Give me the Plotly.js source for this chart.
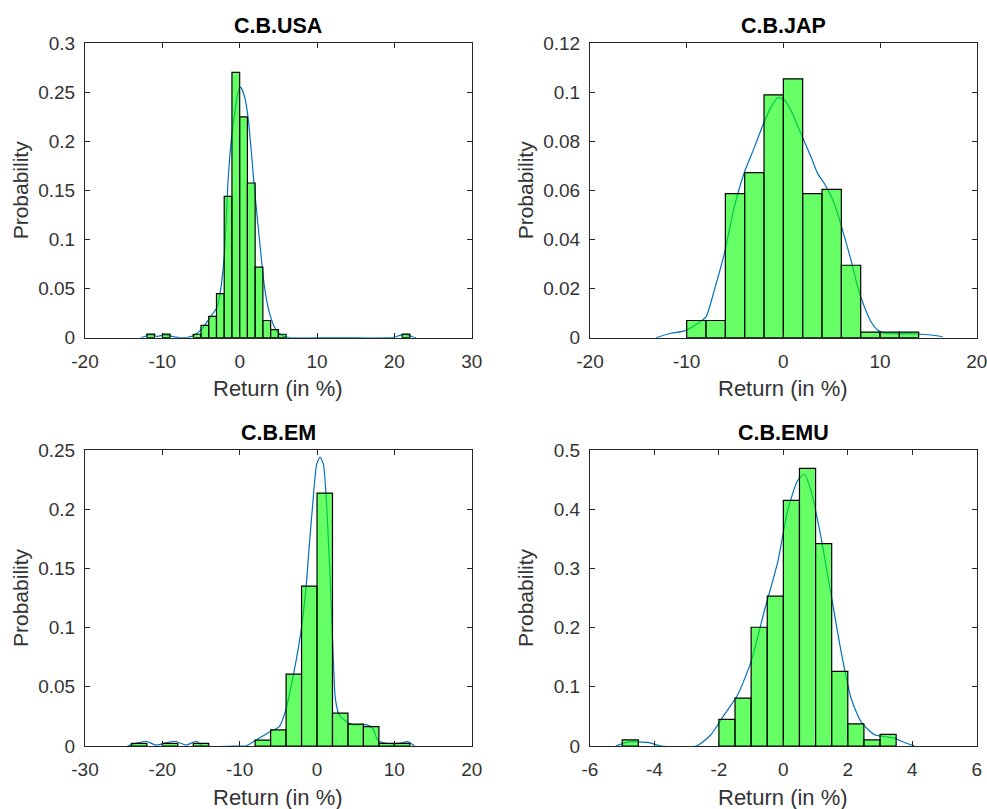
<!DOCTYPE html>
<html>
<head>
<meta charset="utf-8">
<script src="https://cdn.plot.ly/plotly-3.0.1.min.js"></script>
<style>html,body{margin:0;padding:0;background:#fff;}#chart{width:987px;height:809px;}</style>
</head>
<body>
<div id="chart"></div>
<script>
// ---------- Data ----------
const titles = ["C.B.USA", "C.B.JAP", "C.B.EM", "C.B.EMU"];
const xLabel = "Return (in %)";
const yLabel = "Probability";

// C.B.USA histogram (bin width 1)
const usaBinCenters = [-11.5, -9.5, -5.5, -4.5, -3.5, -2.5, -1.5, -0.5, 0.5, 1.5, 2.5, 3.5, 4.5, 5.5, 21.5];
const usaBinValues  = [0.0037, 0.0037, 0.0035, 0.0126, 0.0218, 0.0448, 0.1439, 0.270, 0.2247, 0.1575, 0.0719, 0.0175, 0.0082, 0.0035, 0.0037];
const usaBinWidth = 1;
// C.B.USA density curve
const usaCurveX = [-12.8, -12.2, -11.6, -11.1, -10.7, -10.2, -9.7, -9.0, -8.3, -7.7, -6.9, -6.2, -5.6, -5.0, -4.5, -3.8, -3.0, -2.6, -2.0, -1.5, -1.1, -0.65, -0.2, 0.12, 0.64, 1.07, 1.5, 1.93, 2.57, 3.2, 3.85, 4.7, 5.6, 6.5, 10, 15, 19.9, 20.8, 21.5, 22.3, 22.8];
const usaCurveY = [0, 0.0015, 0.003, 0.0025, 0.0012, 0.0022, 0.0028, 0.0018, 0.0006, 0.0001, 0.0002, 0.0013, 0.004, 0.008, 0.013, 0.021, 0.03, 0.042, 0.082, 0.16, 0.2, 0.228, 0.25, 0.255, 0.245, 0.225, 0.19, 0.15, 0.099, 0.052, 0.025, 0.008, 0.0017, 0, 0, 0, 0.0003, 0.0027, 0.0034, 0.001, 0];

// C.B.JAP histogram (bin width 2)
const japBinCenters = [-9, -7, -5, -3, -1, 1, 3, 5, 7, 9, 11, 13];
const japBinValues  = [0.007, 0.007, 0.0587, 0.0672, 0.0989, 0.1054, 0.0587, 0.0604, 0.0295, 0.0023, 0.0023, 0.0023];
const japBinWidth = 2;
const japCurveX = [-13.17, -11.62, -10.24, -8.86, -8.0, -7.14, -6.1, -5.07, -4.03, -3.0, -2.07, -1.28, -0.59, 0.1, 0.79, 1.83, 2.86, 3.55, 4.24, 5.27, 6.03, 7.0, 7.69, 8.38, 9.07, 9.75, 10.44, 13.89, 15.27, 16.48];
const japCurveY = [0, 0.0018, 0.0028, 0.0058, 0.0085, 0.0194, 0.0343, 0.0533, 0.0674, 0.0775, 0.087, 0.0938, 0.0977, 0.0969, 0.0925, 0.083, 0.0736, 0.0668, 0.0628, 0.0547, 0.0451, 0.0316, 0.0207, 0.0126, 0.0065, 0.0031, 0.0018, 0.0015, 0.0011, 0.0004];

// C.B.EM histogram (bin width 2)
const emBinCenters = [-23, -19, -15, -7, -5, -3, -1, 1, 3, 5, 7, 9, 11];
const emBinValues  = [0.0023, 0.0023, 0.0023, 0.005, 0.0136, 0.0607, 0.135, 0.2136, 0.0277, 0.0184, 0.0164, 0.0023, 0.0023];
const emBinWidth = 2;
const emCurveX = [-24.5, -23.85, -22.12, -20.8, -18.4, -16.9, -15.6, -14.8, -10, -9.2, -7.9, -6.2, -4.88, -4.1, -2.72, -2.07, -1.42, -0.99, -0.56, -0.04, 0.39, 0.82, 1.16, 1.6, 2.03, 2.37, 2.89, 3.75, 4.61, 6.34, 7.2, 7.85, 8.93, 10.65, 11.73, 12.6];
const emCurveY = [0, 0.0014, 0.004, 0.0008, 0.004, 0.0008, 0.004, 0, 0, 0, 0.005, 0.0116, 0.0164, 0.029, 0.0715, 0.097, 0.134, 0.170, 0.204, 0.238, 0.244, 0.238, 0.213, 0.156, 0.086, 0.040, 0.026, 0.021, 0.018, 0.018, 0.015, 0.005, 0.0023, 0.0023, 0.0037, 0];

// C.B.EMU histogram (bin width 0.5)
const emuBinCenters = [-4.75, -1.75, -1.25, -0.75, -0.25, 0.25, 0.75, 1.25, 1.75, 2.25, 2.75, 3.25];
const emuBinValues  = [0.0102, 0.045, 0.0808, 0.2006, 0.253, 0.415, 0.469, 0.342, 0.126, 0.0373, 0.0102, 0.0198];
const emuBinWidth = 0.5;
const emuCurveX = [-5.2, -4.8, -4.2, -3.8, -2.7, -2.25, -1.83, -1.42, -1.0, -0.59, -0.17, 0.13, 0.44, 0.65, 0.86, 1.17, 1.48, 1.79, 2.1, 2.41, 2.83, 3.14, 3.45, 3.76, 4.07];
const emuCurveY = [0, 0.007, 0.006, 0, 0, 0.019, 0.053, 0.086, 0.143, 0.228, 0.312, 0.397, 0.448, 0.459, 0.431, 0.352, 0.256, 0.16, 0.081, 0.041, 0.019, 0.016, 0.013, 0.006, 0];

// Axis ranges and tick labels
const xRanges = [[-20, 30], [-20, 20], [-30, 20], [-6, 6]];
const xTickVals = [
  [-20, -10, 0, 10, 20, 30],
  [-20, -10, 0, 10, 20],
  [-30, -20, -10, 0, 10, 20],
  [-6, -4, -2, 0, 2, 4, 6]
];
const xTickText = [
  ["-20", "-10", "0", "10", "20", "30"],
  ["-20", "-10", "0", "10", "20"],
  ["-30", "-20", "-10", "0", "10", "20"],
  ["-6", "-4", "-2", "0", "2", "4", "6"]
];
const yRanges = [[0, 0.3], [0, 0.12], [0, 0.25], [0, 0.5]];
const yDticks = [0.05, 0.02, 0.05, 0.1];

// ---------- Build figure ----------
const W = 987, H = 809;
const FONT = "Liberation Sans, Arial, Helvetica, sans-serif";
const px = v => v / W;
const py = v => 1 - v / H;

// axes boxes in pixels [left, right, top, bottom]
const boxes = [
  [85, 471.7, 43, 337.7],
  [590, 976.7, 43, 337.7],
  [85, 471.7, 450, 746],
  [590, 976.7, 450, 746]
];

const hist = [
  {c: usaBinCenters, v: usaBinValues, w: usaBinWidth, cx: usaCurveX, cy: usaCurveY},
  {c: japBinCenters, v: japBinValues, w: japBinWidth, cx: japCurveX, cy: japCurveY},
  {c: emBinCenters,  v: emBinValues,  w: emBinWidth,  cx: emCurveX,  cy: emCurveY},
  {c: emuBinCenters, v: emuBinValues, w: emuBinWidth, cx: emuCurveX, cy: emuCurveY}
];

const data = [];
const layout = {
  width: W, height: H,
  margin: {l: 0, r: 0, t: 0, b: 0},
  paper_bgcolor: "#ffffff",
  plot_bgcolor: "rgba(0,0,0,0)",
  showlegend: false,
  font: {family: FONT, color: "#262626"},
  annotations: []
};

const axColor = "#262626";
for (let i = 0; i < 4; i++) {
  const n = i + 1;
  const xa = n === 1 ? "x" : "x" + n;
  const ya = n === 1 ? "y" : "y" + n;
  const yo = "y" + (n + 4);
  const b = boxes[i];
  const h = hist[i];

  // density curve (base subplot, drawn beneath the semi-transparent bars)
  data.push({
    type: "scatter", mode: "lines",
    x: h.cx, y: h.cy, xaxis: xa, yaxis: ya,
    line: {color: "#0072BD", width: 1.2, shape: "spline", smoothing: 0.6},
    hoverinfo: "skip"
  });
  // histogram bars (overlay subplot, drawn on top)
  data.push({
    type: "bar",
    x: h.c, y: h.v, width: h.w, xaxis: xa, yaxis: yo,
    marker: {color: "rgba(0,255,0,0.6)", line: {color: "#000000", width: 1.2}}
  });

  const common = {
    showline: true, linecolor: axColor, linewidth: 1,
    mirror: "ticks", ticks: "inside", ticklen: 5, tickcolor: axColor, tickwidth: 1,
    showgrid: false, zeroline: false, ticklabeloverflow: "allow",
    tickfont: {family: FONT, size: 19, color: "#333333"}
  };
  layout["xaxis" + (n === 1 ? "" : n)] = Object.assign({}, common, {
    domain: [px(b[0]), px(b[1])], anchor: ya,
    range: xRanges[i], tickmode: "array", tickvals: xTickVals[i], ticktext: xTickText[i],
    fixedrange: true, ticklabelstandoff: 6
  });
  layout["yaxis" + (n === 1 ? "" : n)] = Object.assign({}, common, {
    domain: [py(b[3]), py(b[2])], anchor: xa,
    range: yRanges[i], tick0: 0, dtick: yDticks[i], fixedrange: true,
    ticklabelstandoff: 5
  });
  layout["yaxis" + (n + 4)] = {
    overlaying: ya, anchor: xa, range: yRanges[i], fixedrange: true,
    showline: false, showticklabels: false, ticks: "", showgrid: false, zeroline: false
  };

  const cx = (b[0] + b[1]) / 2;
  const cy = (b[2] + b[3]) / 2;
  layout.annotations.push({
    text: "<b>" + titles[i] + "</b>", xref: "paper", yref: "paper",
    x: px(cx), y: py(b[2] - 17), xanchor: "center", yanchor: "middle",
    showarrow: false, font: {family: FONT, size: 21.5, color: "#000000"}
  });
  layout.annotations.push({
    text: xLabel, xref: "paper", yref: "paper",
    x: px(cx), y: py(b[3] + 51), xanchor: "center", yanchor: "middle",
    showarrow: false, font: {family: FONT, size: 22, color: "#333333"}
  });
  layout.annotations.push({
    text: yLabel, xref: "paper", yref: "paper",
    x: px(b[0] - 65), y: py(cy), xanchor: "center", yanchor: "middle", textangle: -90,
    showarrow: false, font: {family: FONT, size: 21, color: "#333333"}
  });
}

Plotly.newPlot("chart", data, layout, {staticPlot: true, displayModeBar: false});
</script>
</body>
</html>
